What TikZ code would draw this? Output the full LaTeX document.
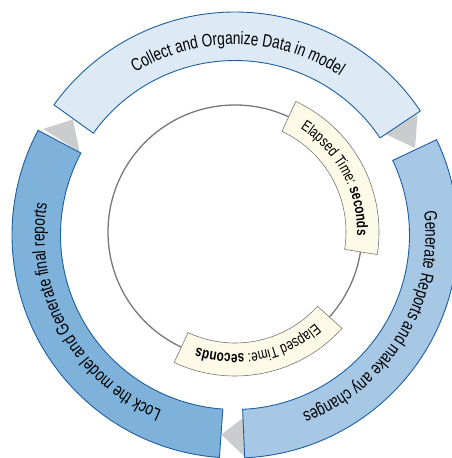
\documentclass[tikz,border=0pt]{standalone}
\usepackage{fontspec}
\newfontfamily\ringfont[FakeStretch=0.76]{Liberation Sans}
\usepackage{tikz}
\usetikzlibrary{decorations.text}
\usepackage{xcolor}
\definecolor{ringline}{HTML}{1C5E9F}
\definecolor{collectfill}{HTML}{DDEAF6}
\definecolor{reportfill}{HTML}{A6C8E5}
\definecolor{lockfill}{HTML}{7EB2DA}
\definecolor{flowgray}{HTML}{CBCCCE}
\definecolor{timefill}{HTML}{FDFBE7}
\definecolor{circlegray}{HTML}{777777}

\begin{document}
\begin{tikzpicture}[
    segment/.style={draw=ringline, line width=0.9pt},
    flow/.style={fill=flowgray},
    timeline/.style={draw=circlegray, line width=1.3pt},
    timebox/.style={draw=circlegray, fill=timefill, line width=0.6pt},
    ringtext/.style={decorate, decoration={text along path, text align=center, text={|\ringfont\fontsize{18}{21}\selectfont|#1}}},
    timetext/.style={decorate, decoration={text along path, text align=center, text={|\ringfont\fontsize{15.5}{18}\selectfont|Elapsed Time: |\ringfont\fontsize{15.5}{18}\selectfont\bfseries|seconds}}}
]
\useasboundingbox (-235pt,-223pt) rectangle (217pt,235pt);
\clip (-235pt,-223pt) rectangle (217pt,235pt);

\fill[flow] (34.5:180pt) -- (33.5:219pt) -- (25.8:200pt) -- cycle;
\fill[flow] (-87.5:183pt) -- (-87.5:222pt) -- (-93.9:200pt) -- cycle;
\fill[flow] (152:176pt) -- (151:219pt) -- (144.5:199pt) -- cycle;

\path[segment, fill=collectfill] (144.3:223pt) arc[start angle=144.3, end angle=33.8, radius=223pt] -- (33.8:174.5pt) arc[start angle=33.8, end angle=144.3, radius=174.5pt] -- cycle;
\path[segment, fill=reportfill] (25.3:223pt) arc[start angle=25.3, end angle=-87.5, radius=223pt] -- (-87.5:174.5pt) arc[start angle=-87.5, end angle=25.3, radius=174.5pt] -- cycle;
\path[segment, fill=lockfill] (266:223pt) arc[start angle=266, end angle=152, radius=223pt] -- (152:174.5pt) arc[start angle=152, end angle=266, radius=174.5pt] -- cycle;

\path[ringtext={Collect and Organize Data in model}] (144.3:190.5pt) arc[start angle=144.3, end angle=33.8, radius=190.5pt];
\path[ringtext={Generate Reports and make any changes}] (25.3:190.5pt) arc[start angle=25.3, end angle=-87.5, radius=190.5pt];
\path[ringtext={Lock the model and Generate final reports}] (266:190.5pt) arc[start angle=266, end angle=152, radius=190.5pt];

\begin{scope}[shift={(0pt,3pt)}]
\draw[timeline] (0pt,0pt) circle[radius=127pt];
\path[timebox] (65:144pt) arc[start angle=65, end angle=-9, radius=144pt] -- (-9:111pt) arc[start angle=-9, end angle=65, radius=111pt] -- cycle;
\path[timetext] (65:122pt) arc[start angle=65, end angle=-9, radius=122pt];
\path[timebox] (-42:144pt) arc[start angle=-42, end angle=-115, radius=144pt] -- (-115:111pt) arc[start angle=-115, end angle=-42, radius=111pt] -- cycle;
\path[timetext] (-42:122pt) arc[start angle=-42, end angle=-115, radius=122pt];
\end{scope}

\end{tikzpicture}
\end{document}
